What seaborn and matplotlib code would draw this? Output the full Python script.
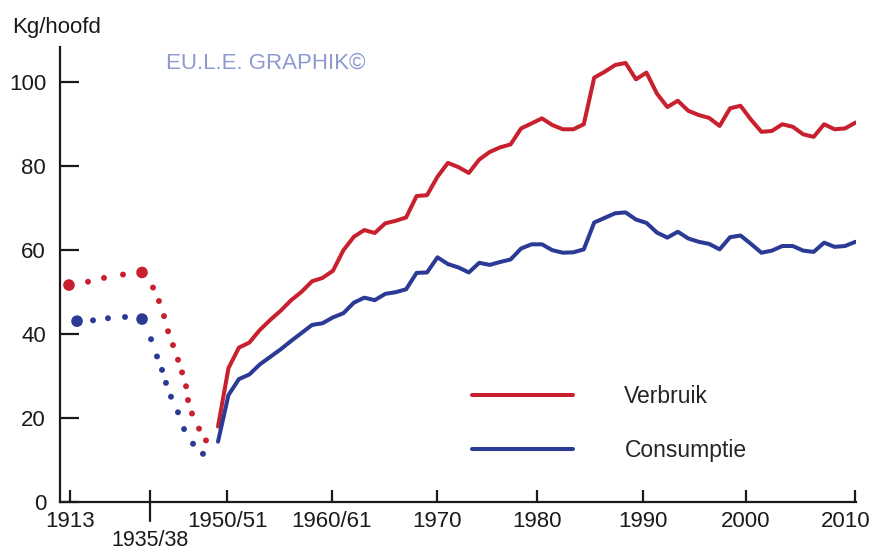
import numpy as np
import pandas as pd
import matplotlib
matplotlib.use('Agg')
import matplotlib.pyplot as plt
import matplotlib.transforms as mtransforms
import seaborn as sns

# post-war yearly series (kg per head)
years = np.arange(1949, 2011)
verbruik = [17.9, 31.8, 36.7, 37.9, 40.9, 43.3, 45.5, 48.0, 50.0, 52.5,
            53.3, 55.0, 59.9, 63.1, 64.7, 64.0, 66.3, 66.9, 67.7, 72.8,
            73.0, 77.4, 80.7, 79.7, 78.3, 81.5, 83.3, 84.4, 85.1, 88.9,
            90.1, 91.3, 89.7, 88.7, 88.7, 89.9, 101.0, 102.4, 104.0, 104.5,
            100.6, 102.2, 97.2, 94.0, 95.5, 93.1, 92.1, 91.4, 89.5, 93.7,
            94.3, 91.0, 88.1, 88.3, 89.9, 89.3, 87.5, 86.9, 89.9, 88.7,
            88.9, 90.3]
consumptie = [14.3, 25.4, 29.2, 30.3, 32.7, 34.5, 36.3, 38.3, 40.2, 42.1,
              42.5, 43.9, 44.9, 47.4, 48.6, 48.0, 49.5, 49.9, 50.6, 54.5,
              54.6, 58.2, 56.6, 55.8, 54.6, 56.9, 56.4, 57.1, 57.7, 60.3,
              61.3, 61.3, 59.9, 59.3, 59.4, 60.1, 66.5, 67.6, 68.7, 68.9,
              67.2, 66.4, 64.1, 62.9, 64.3, 62.7, 61.9, 61.4, 60.1, 63.0,
              63.4, 61.4, 59.3, 59.8, 60.9, 60.9, 59.8, 59.5, 61.7, 60.7,
              60.9, 61.9]

# pre-war part on the compressed axis (dotted); first and fifth point are 1913 and 1935/38
prewar_pos_v = [1934.74, 1936.56, 1938.09, 1939.91, 1941.73, 1942.78, 1943.35,
                1943.83, 1944.22, 1944.69, 1945.17, 1945.56, 1945.94, 1946.13,
                1946.51, 1947.18, 1947.85]
prewar_v = [51.6, 52.4, 53.3, 54.1, 54.6, 51.0, 47.8, 44.2, 40.6, 37.3, 33.8,
            30.8, 27.5, 24.2, 21.0, 17.4, 14.6]
prewar_pos_c = [1935.51, 1937.04, 1938.47, 1940.10, 1941.73, 1942.59, 1943.16,
                1943.64, 1944.02, 1944.50, 1945.17, 1945.75, 1946.61, 1947.56]
prewar_c = [43.0, 43.2, 43.7, 44.0, 43.5, 38.7, 34.6, 31.4, 28.3, 25.0, 21.3,
            17.3, 13.8, 11.4]

tick_pos = [1934.84, 1942.5, 1949.9, 1959.9, 1970.0, 1979.5, 1989.7, 1999.5, 2010.0]
tick_labels = ['1913', '\n1935/38', '1950/51', '1960/61', '1970', '1980',
               '1990', '2000', '2010']
y_ticks = [0, 20, 40, 60, 80, 100]

RED = '#c8202f'
BLUE = '#2b3a94'
INK = '#1a1a1a'

sns.set_style('ticks')
plt.rcParams['font.family'] = ['Liberation Sans', 'DejaVu Sans']

fig = plt.figure(figsize=(8.78, 5.49), dpi=100)
ax = fig.add_axes([60 / 878, 1 - 501.7 / 549, (856 - 60) / 878, (501.7 - 47) / 549])

df = pd.DataFrame({
    'jaar': np.concatenate([years, years]),
    'kg': verbruik + consumptie,
    'reeks': ['Verbruik'] * len(years) + ['Consumptie'] * len(years),
})
sns.lineplot(data=df, x='jaar', y='kg', hue='reeks',
             palette={'Verbruik': RED, 'Consumptie': BLUE},
             linewidth=2.9, ax=ax, legend=False,
             solid_capstyle='round', solid_joinstyle='round')

for pos, vals, col in [(prewar_pos_v, prewar_v, RED), (prewar_pos_c, prewar_c, BLUE)]:
    sizes = [70 if i in (0, 4) else 18 for i in range(len(vals))]
    sns.scatterplot(x=pos, y=vals, s=sizes, color=col, edgecolor='none',
                    ax=ax, legend=False)

ax.set_xlim(1933.88, 2010.05)
ax.set_ylim(0, 108.3)
ax.set_xticks(tick_pos)
ax.set_xticklabels(tick_labels)
ax.set_yticks(y_ticks)
ax.set_xlabel('')
ax.set_ylabel('')
sns.despine(ax=ax)
for s in ['left', 'bottom']:
    ax.spines[s].set_linewidth(1.6)
    ax.spines[s].set_color(INK)
ax.tick_params(axis='x', direction='in', length=9, width=1.6, pad=7,
               labelsize=16, colors=INK)
ax.tick_params(axis='y', direction='in', length=14, width=1.6, pad=10,
               labelsize=16, colors=INK)
xlabels = ax.get_xticklabels()
# second-row label under the axis, kept inside the canvas
xlabels[1].set_linespacing(0.82)
xlabels[1].set_fontsize(15.5)
# last label sits a little left of its tick, as in the original
xlabels[-1].set_transform(xlabels[-1].get_transform() +
                          mtransforms.ScaledTranslation(-10 / 100, 0, fig.dpi_scale_trans))
# 1935/38 tick crosses the axis
ax.plot([1942.5, 1942.5], [-4.5, 0], color=INK, lw=1.6, clip_on=False)

h_v, = ax.plot([], [], color=RED, lw=2.9, solid_capstyle='round')
h_c, = ax.plot([], [], color=BLUE, lw=2.9, solid_capstyle='round')
ax.legend([h_v, h_c], ['Verbruik', 'Consumptie'], loc='center left',
          bbox_to_anchor=(472 / 878, 1 - 423.5 / 549), bbox_transform=fig.transFigure,
          frameon=False, fontsize=16.5, handlelength=4.4, handletextpad=2.25,
          labelspacing=1.35, borderpad=0, borderaxespad=0)

fig.text(12 / 878, 1 - 28 / 549, 'Kg/hoofd', fontsize=16, va='center', ha='left',
         color=INK)
fig.text(166 / 878, 1 - 63 / 549, 'EU.L.E. GRAPHIK©', fontsize=16, va='center',
         ha='left', color='#8e99cf')

fig.savefig('out.png', dpi=100)
